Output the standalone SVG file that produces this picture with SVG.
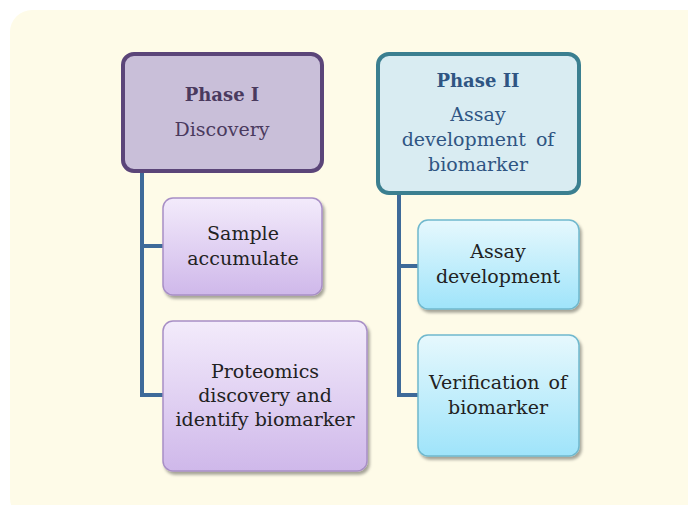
<svg xmlns="http://www.w3.org/2000/svg" width="688" height="505" viewBox="0 0 688 505">
<defs>
<linearGradient id="gp" x1="0" y1="0" x2="0" y2="1"><stop offset="0" stop-color="#f3ebfb"/><stop offset="1" stop-color="#cfb8ea"/></linearGradient>
<linearGradient id="gb" x1="0" y1="0" x2="0" y2="1"><stop offset="0" stop-color="#e6f8fd"/><stop offset="1" stop-color="#9fe4fa"/></linearGradient>
<filter id="sh" x="-10%" y="-10%" width="130%" height="130%"><feDropShadow dx="2" dy="3" stdDeviation="1.5" flood-color="#000" flood-opacity="0.35"/></filter>
<style>
text{font-family:"DejaVu Serif","Liberation Serif",serif;text-anchor:middle;font-size:19px}
.t1{fill:#4a3a5e}
.t2{fill:#2f5583}
.c{fill:#222}
.b{font-weight:bold;font-size:18px}
.conn{stroke:#3e6a99;stroke-width:4;fill:none}
.cp{fill:url(#gp);stroke:#a88fc6;stroke-width:1.5;filter:url(#sh)}
.cb{fill:url(#gb);stroke:#6fb8cd;stroke-width:1.5;filter:url(#sh)}
</style>
</defs>
<rect x="10" y="10" width="700" height="510" rx="22" fill="#fefbe8"/>
<g id="connectors">
<path class="conn" d="M142 173V395H163M142 246H163"/>
<path class="conn" d="M399 195V395H418M399 266H418"/>
</g>
<g id="phase1">
<rect x="123" y="54" width="199" height="117" rx="11" fill="#c9bfd9" stroke="#5b4579" stroke-width="4"/>
<text x="222" y="101" class="t1 b">Phase I</text>
<text x="222" y="136" class="t1">Discovery</text>
</g>
<g id="phase2">
<rect x="378" y="54" width="201" height="139" rx="11" fill="#d9ecf2" stroke="#3b7f90" stroke-width="4"/>
<text x="478" y="87" class="t2 b">Phase II</text>
<text x="478" y="121" class="t2">Assay</text>
<text x="478" y="146" class="t2" word-spacing="4">development of</text>
<text x="478" y="171" class="t2">biomarker</text>
</g>
<g id="sample">
<rect class="cp" x="163" y="198" width="159" height="97" rx="10"/>
<text x="243" y="240" class="c">Sample</text>
<text x="243" y="265" class="c">accumulate</text>
</g>
<g id="proteomics">
<rect class="cp" x="163" y="321" width="204" height="150" rx="10"/>
<text x="265" y="378" class="c">Proteomics</text>
<text x="265" y="402" class="c">discovery and</text>
<text x="265" y="426" class="c">identify biomarker</text>
</g>
<g id="assay">
<rect class="cb" x="418" y="220" width="161" height="89" rx="10"/>
<text x="498" y="258" class="c">Assay</text>
<text x="498" y="283" class="c">development</text>
</g>
<g id="verification">
<rect class="cb" x="418" y="335" width="161" height="121" rx="10"/>
<text x="498" y="389" class="c" word-spacing="3">Verification of</text>
<text x="498" y="414" class="c">biomarker</text>
</g>
</svg>
